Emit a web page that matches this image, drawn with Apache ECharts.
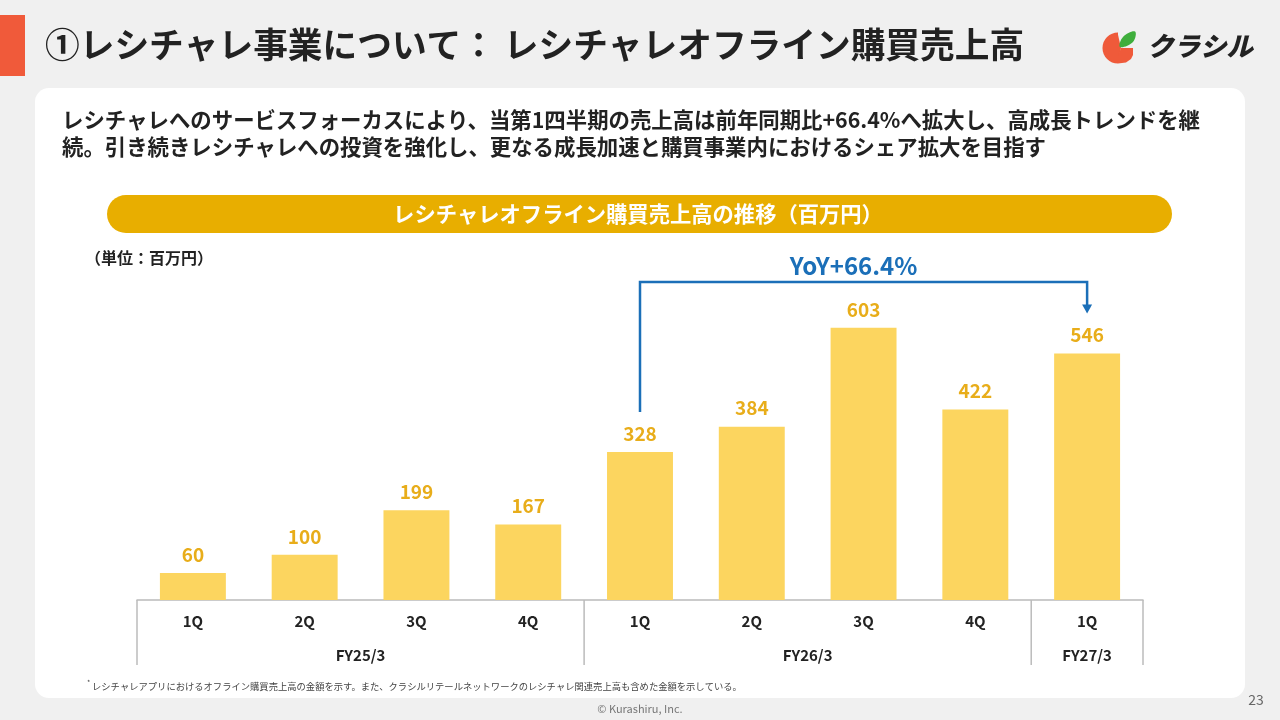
<!DOCTYPE html>
<html>
<head>
<meta charset="utf-8">
<script src="https://cdn.jsdelivr.net/npm/echarts@6/dist/echarts.min.js"></script>
<style>
html,body{margin:0;padding:0;background:#f0f0f0;}
#chart{width:1280px;height:720px;}
</style>
</head>
<body>
<div id="chart"></div>
<script>
// ---- data ----
const quarters = ['1Q','2Q','3Q','4Q','1Q','2Q','3Q','4Q','1Q'];
const fiscalYears = ['FY25/3','FY26/3','FY27/3'];
const fiscalYearSizes = [4,4,1];
const sales = [60,100,199,167,328,384,603,422,546];
const yoyLabel = 'YoY+66.4%';
const yoyFrom = 4, yoyTo = 8;

const titleText = '①レシチャレ事業について： レシチャレオフライン購買売上高';
const leadLine1 = 'レシチャレへのサービスフォーカスにより、当第1四半期の売上高は前年同期比+66.4%へ拡大し、高成長トレンドを継';
const leadLine2 = '続。引き続きレシチャレへの投資を強化し、更なる成長加速と購買事業内におけるシェア拡大を目指す';
const bannerText = 'レシチャレオフライン購買売上高の推移（百万円）';
const unitText = '（単位：百万円）';
const noteText = 'レシチャレアプリにおけるオフライン購買売上高の金額を示す。また、クラシルリテールネットワークのレシチャレ関連売上高も含めた金額を示している。';
const copyright = '© Kurashiru, Inc.';
const pageNo = '23';

const FONT = '"Noto Sans CJK JP","Noto Sans",sans-serif';
const categoryIds = quarters.map((q,i)=>{
  let acc=0;
  for(let g=0; g<fiscalYearSizes.length; g++){ acc+=fiscalYearSizes[g]; if(i<acc) return fiscalYears[g]+' '+q; }
  return q+i;
});

const chart = echarts.init(document.getElementById('chart'), null, {renderer:'canvas'});

function txt(x, y, text, font, fill, align){
  return {type:'text', z:5, x:x, y:y, style:{text:text, font:font, fill:fill, align:align||'left', verticalAlign:'middle'}};
}

const RED = '#ef5a3a';
const staticGraphics = [
  {type:'rect', z:-10, shape:{x:35,y:88,width:1210,height:610,r:14}, style:{fill:'#ffffff'}},
  {type:'rect', z:1, shape:{x:0,y:15,width:25,height:61}, style:{fill:'#f05a3a'}},
  txt(45, 45, titleText, 'bold 34.7px '+FONT, '#222222'),
  // logo
  {type:'sector', z:1, shape:{cx:1118,cy:48,r0:0,r:15.5,startAngle:Math.PI/2,endAngle:Math.PI*1.5,clockwise:true}, style:{fill:RED}},
  {type:'polygon', z:1, shape:{points:[[1117.5,32.5],[1117.5,63.5],[1121,48]]}, style:{fill:RED}},
  {type:'polygon', z:1, shape:{points:[[1121,48],[1133,48],[1133,55],[1131,59],[1126,62.5],[1118,63.5],[1118,56]]}, style:{fill:RED}},
  {type:'polygon', z:1, shape:{points:[[1120,47],[1123,37],[1135,31.5],[1133,42]], smooth:0.4}, style:{fill:'#3fae3c'}},
  txt(1147, 46, 'クラシル', 'italic 900 26.5px '+FONT, '#222222'),
  // lead text
  txt(62, 120, leadLine1, 'bold 21.4px '+FONT, '#222222'),
  txt(62, 147, leadLine2, 'bold 21.4px '+FONT, '#222222'),
  // banner
  {type:'rect', z:1, shape:{x:107,y:195,width:1065,height:38,r:19}, style:{fill:'#e8ae00'}},
  txt(638, 214, bannerText, 'bold 21.3px '+FONT, '#ffffff', 'center'),
  txt(85, 258, unitText, 'bold 16px '+FONT, '#222222'),
  // footnote
  txt(87, 682, '*', '7px '+FONT, '#444444'),
  txt(92, 686, noteText, '9.3px '+FONT, '#444444'),
  txt(640, 709, copyright, '11px '+FONT, '#777777', 'center'),
  txt(1256, 700, pageNo, '14px '+FONT, '#666666', 'center')
];

chart.setOption({
  backgroundColor:'#f0f0f0',
  animation:false,
  grid:{left:137,right:137,top:284,bottom:120,containLabel:false},
  xAxis:{
    type:'category',
    data:categoryIds,
    boundaryGap:true,
    axisLine:{show:true,lineStyle:{color:'#bbbbbb',width:1.5}},
    axisTick:{show:false},
    axisLabel:{
      margin:14,
      formatter:(v,i)=>quarters[i],
      fontFamily:FONT, fontWeight:'bold', fontSize:15, color:'#222222'
    }
  },
  yAxis:{type:'value',min:0,max:700,show:false,splitLine:{show:false}},
  series:[{
    type:'bar',
    data:sales,
    barWidth:'59%',
    itemStyle:{color:'#fcd55f'},
    label:{show:true,position:'top',distance:9,
      fontFamily:FONT,fontWeight:'bold',fontSize:19,color:'#e8ad1a'}
  }],
  graphic:{elements:staticGraphics}
});

function addDynamic(){
  const px = i => chart.convertToPixel({xAxisIndex:0}, i);
  const py = v => chart.convertToPixel({yAxisIndex:0}, v);
  const band = px(1)-px(0);
  const baseY = py(0);
  const extra = [];
  const bounds=[0]; let acc=0;
  fiscalYearSizes.forEach(s=>{acc+=s; bounds.push(acc);});
  bounds.forEach(b=>{
    const x = px(0) - band/2 + b*band;
    extra.push({type:'line', z:3, shape:{x1:x,y1:baseY,x2:x,y2:baseY+65}, style:{stroke:'#bbbbbb',lineWidth:1.5}});
  });
  for(let g=0; g<fiscalYears.length; g++){
    const first = bounds[g], last = bounds[g+1]-1;
    const cx = (px(first)+px(last))/2;
    extra.push(txt(cx, baseY+55, fiscalYears[g], 'bold 15px '+FONT, '#222222', 'center'));
  }
  const x1 = px(yoyFrom), x2 = px(yoyTo);
  const yStart = py(sales[yoyFrom]) - 40;
  const yTop = py(700) - 2;
  const yEnd = py(sales[yoyTo]) - 40;
  const blue = '#1b6fb8';
  extra.push({type:'polyline', z:3, shape:{points:[[x1,yStart],[x1,yTop],[x2,yTop],[x2,yEnd-8]]}, style:{stroke:blue,lineWidth:2.5,fill:null}});
  extra.push({type:'polygon', z:3, shape:{points:[[x2-5,yEnd-9],[x2+5,yEnd-9],[x2,yEnd]]}, style:{fill:blue}});
  extra.push(txt((x1+x2)/2-10, yTop-16, yoyLabel, 'bold 24px '+FONT, blue, 'center'));
  chart.setOption({graphic:{elements:staticGraphics.concat(extra)}}, {replaceMerge:['graphic']});
}
addDynamic();
</script>
</body>
</html>
